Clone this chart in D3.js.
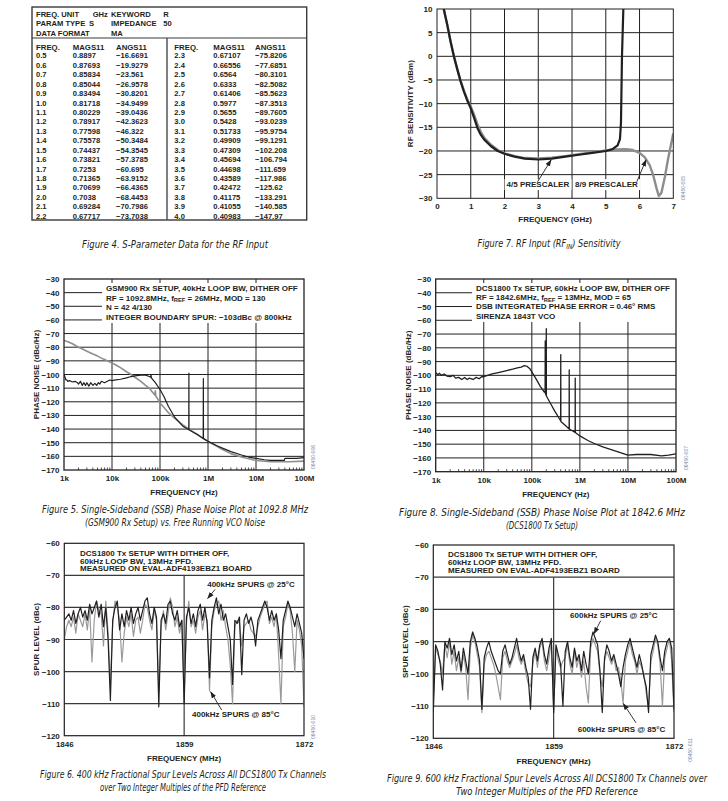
<!DOCTYPE html>
<html>
<head>
<meta charset="utf-8">
<script src="https://cdn.jsdelivr.net/npm/d3@7"></script>
<style>
  body { margin: 0; background: #fff; }
  svg text { font-family: "Liberation Sans", Arial, Helvetica, sans-serif; font-weight: bold; fill: #231f20; }
  svg text.cap { font-family: "Liberation Sans Narrow", "DejaVu Sans Condensed", "Liberation Sans", sans-serif; font-weight: normal; font-style: italic; }
  svg text.code { font-weight: normal; fill: #7486a6; }
</style>
</head>
<body>
<svg id="page" width="728" height="801"></svg>
<script>
// ---- Figure 4: S-parameter table
var tabFreqL = ['0.5', '0.6', '0.7', '0.8', '0.9', '1.0', '1.1', '1.2', '1.3', '1.4', '1.5', '1.6', '1.7', '1.8', '1.9', '2.0', '2.1', '2.2']
var tabMagL = ['0.8897', '0.87693', '0.85834', '0.85044', '0.83494', '0.81718', '0.80229', '0.78917', '0.77598', '0.75578', '0.74437', '0.73821', '0.7253', '0.71365', '0.70699', '0.7038', '0.69284', '0.67717']
var tabAngL = [-16.6691, -19.9279, -23.561, -26.9578, -30.8201, -34.9499, -39.0436, -42.3623, -46.322, -50.3484, -54.3545, -57.3785, -60.695, -63.9152, -66.4365, -68.4453, -70.7986, -73.7038]
var tabFreqR = ['2.3', '2.4', '2.5', '2.6', '2.7', '2.8', '2.9', '3.0', '3.1', '3.2', '3.3', '3.4', '3.5', '3.6', '3.7', '3.8', '3.9', '4.0']
var tabMagR = ['0.67107', '0.66556', '0.6564', '0.6333', '0.61406', '0.5977', '0.5655', '0.5428', '0.51733', '0.49909', '0.47309', '0.45694', '0.44698', '0.43589', '0.42472', '0.41175', '0.41055', '0.40983']
var tabAngR = [-75.8206, -77.6851, -80.3101, -82.5082, -85.5623, -87.3513, -89.7605, -93.0239, -95.9754, -99.1291, -102.208, -106.794, -111.659, -117.986, -125.62, -133.291, -140.585, -147.97]
var tabHeader = [['FREQ. UNIT', 'GHz', 'KEYWORD', 'R'], ['PARAM TYPE', 'S', 'IMPEDANCE', '50'], ['DATA FORMAT', '', 'MA', '']]
var tabColumns = ['FREQ.', 'MAGS11', 'ANGS11', 'FREQ.', 'MAGS11', 'ANGS11']

// ---- Figure 7: RF sensitivity (GHz, dBm)
var sensFreq45 = [0.2, 0.3, 0.4, 0.5, 0.6, 0.7, 0.8, 0.9, 1.0, 1.1, 1.2, 1.3, 1.4, 1.6, 1.8, 2.0, 2.3, 2.6, 3.0, 3.4, 3.8, 4.2, 4.6, 5.0, 5.2, 5.35, 5.42, 5.45, 5.48, 5.52]
var sens45 = [10, 6.8, 3.2, 0, -2.7, -5.3, -7.5, -9.4, -11, -13, -15.2, -16.6, -17.6, -19, -20, -20.6, -21.2, -21.6, -21.8, -21.6, -21.2, -20.8, -20.4, -20, -19.6, -18.8, -17.5, -14, 0, 10]
var sensFreq89 = [0.2, 0.3, 0.4, 0.5, 0.6, 0.7, 0.8, 0.9, 1.0, 1.1, 1.2, 1.3, 1.4, 1.6, 1.8, 2.0, 2.3, 2.6, 3.0, 3.4, 3.8, 4.2, 4.6, 5.0, 5.3, 5.6, 5.8, 6.0, 6.15, 6.3, 6.4, 6.5, 6.57, 6.65, 6.75, 6.85, 7.0]
var sens89 = [10, 6.8, 3.2, 0, -2.7, -5.2, -7.3, -9.1, -10.6, -12.4, -14.4, -16, -17.2, -18.7, -19.8, -20.5, -21.1, -21.5, -21.6, -21.4, -21.1, -20.7, -20.3, -19.9, -19.7, -19.6, -19.8, -20.4, -21.3, -23, -25, -27.8, -29.5, -28.8, -25.5, -21.5, -16.3]

// ---- Figure 5: phase noise, GSM900 Rx (Hz, dBc/Hz)
var pnTicks = [1e3, 1e4, 1e5, 1e6, 1e7, 1e8]
var pnTickLabels = ['1k', '10k', '100k', '1M', '10M', '100M']
var pn5Freq = [1000, 1050, 1100, 1150, 1200, 1300, 1400, 1500, 1700, 1900, 2000, 2200, 2400, 2600, 2800, 3000, 3300, 3600, 4000, 4400, 4800, 5200, 5600, 6000, 7000, 8000, 9000, 10000, 12000, 15000, 20000, 25000, 30000, 40000, 50000, 60000, 64000, 65000, 66000, 70000, 80000, 100000, 120000, 150000, 200000, 300000, 398000, 400000, 402000, 500000, 600000, 795000, 800000, 805000, 1e6, 1.5e6, 2e6, 3e6, 5e6, 7e6, 1e7, 1.5e7, 2e7, 3e7, 3.9e7, 4e7, 5e7, 7e7, 1e8]
var pn5Loop = [-100, -102, -104, -104, -105, -104.5, -105, -105.5, -105, -106, -107, -105, -108, -106, -108, -106, -108.5, -106, -108, -106.5, -108, -106, -107, -105, -106, -105, -104, -104.5, -104, -103.5, -102.5, -101.5, -101, -100.5, -100.5, -101.5, -102, -100, -102.5, -103.5, -106, -111, -116, -123.5, -131, -138, -140.5, -99, -140.5, -142.5, -144, -147, -103, -147, -149, -152, -154, -156.5, -159, -160.5, -161.5, -162.5, -163, -163, -163, -161.5, -161.5, -161.5, -161]
var pn5VcoFreq = [1000, 1200, 1500, 2000, 2500, 3000, 4000, 5000, 6000, 7000, 8000, 10000, 12000, 15000, 20000, 25000, 30000, 40000, 50000, 60000, 70000, 78000, 80000, 82000, 90000, 100000, 120000, 150000, 200000, 300000, 400000, 600000, 1e6, 1.5e6, 2e6, 3e6, 5e6, 1e7, 2e7, 5e7, 1e8]
var pn5Vco = [-75, -76, -77.5, -80, -81.5, -83, -85, -86.5, -88, -89, -90, -91.5, -93, -95, -98, -100, -102, -105, -108, -110, -113, -115, -112, -116, -118, -121, -124, -128, -132, -137, -140, -144, -149, -152.5, -155, -158, -160.5, -163, -164, -164, -163.5]
var pn5Notes = [['GSM900 Rx SETUP, 40kHz LOOP BW, DITHER OFF'], ['RF = 1092.8MHz, f', {sub: 'REF'}, ' = 26MHz, MOD = 130'], ['N = 42 4/130'], ['INTEGER BOUNDARY SPUR: \u2212103dBc @ 800kHz']]

// ---- Figure 8: phase noise, DCS1800 Tx
var pn8Freq = [1000, 1100, 1200, 1300, 1500, 1700, 2000, 2300, 2600, 3000, 3500, 4000, 4500, 5000, 6000, 7000, 8000, 9000, 10000, 12000, 15000, 20000, 30000, 40000, 50000, 60000, 70000, 80000, 90000, 100000, 120000, 150000, 180000, 189000, 190000, 191000, 199000, 200000, 201000, 250000, 300000, 398000, 400000, 402000, 500000, 598000, 600000, 602000, 798000, 800000, 802000, 1e6, 1.5e6, 2e6, 3e6, 5e6, 1e7, 1.5e7, 2e7, 3e7, 5e7, 7e7, 1e8]
var pn8 = [-98, -99.5, -98.5, -100, -99, -100.5, -101, -100, -102, -101.5, -103, -101.5, -103, -102, -103, -101.5, -102.5, -101, -101, -100, -99, -98, -96.5, -95.5, -94.5, -94, -93, -93.5, -95, -97.5, -102, -108, -112, -112.5, -75, -113, -114.5, -66, -115, -121, -126, -133, -85, -133.5, -136.5, -139, -96, -139, -141.5, -102, -141.5, -144, -147.5, -149.5, -152, -154.5, -158, -157.5, -157.5, -157.5, -158.5, -158, -157]
var pn8Notes = [['DCS1800 Tx SETUP, 60kHz LOOP BW, DITHER OFF'], ['RF = 1842.6MHz, f', {sub: 'REF'}, ' = 13MHz, MOD = 65'], ['DSB INTEGRATED PHASE ERROR = 0.46\u00b0 RMS'], ['SIRENZA 1843T VCO']]

// ---- Figures 6 and 9: spur levels over channels (MHz, dBc)
var chanFreq = d3.range(0, 105).map(i => 1846 + i * 0.25)
var spurTicks = [1846, 1859, 1872]
var spur400At25 = [-84, -83, -82, -84, -81, -85, -82, -80, -83, -81, -84, -79, -82, -80, -78, -83, -79, -86, -80, -90, -109, -84, -80, -78, -87, -82, -86, -81, -84, -80, -85, -82, -80, -84, -81, -78, -77, -82, -85, -80, -83, -111, -84, -82, -85, -79, -78, -82, -84, -81, -86, -84, -110, -83, -80, -85, -82, -86, -81, -79, -84, -80, -85, -102, -84, -80, -77, -82, -79, -84, -82, -86, -90, -104, -84, -85, -83, -101, -84, -82, -85, -83, -86, -92, -84, -82, -80, -78, -80, -84, -81, -84, -82, -87, -96, -84, -81, -78, -80, -83, -86, -82, -85, -88, -96]
var spur400At85 = [-90, -86, -84, -86, -83, -88, -82, -84, -86, -82, -87, -80, -97, -84, -78, -81, -82, -92, -78, -88, -104, -85, -78, -80, -84, -97, -88, -83, -86, -82, -89, -84, -83, -88, -84, -79, -80, -84, -87, -81, -84, -106, -86, -81, -87, -82, -77, -80, -86, -83, -88, -84, -107, -85, -78, -86, -84, -88, -83, -81, -87, -82, -84, -106, -86, -81, -79, -78, -84, -81, -86, -90, -98, -110, -86, -84, -85, -92, -86, -85, -84, -87, -88, -89, -86, -83, -81, -79, -78, -85, -83, -86, -82, -95, -110, -86, -83, -79, -81, -88, -100, -84, -87, -92, -111]
var spur600At25 = [-112, -91, -93, -97, -105, -90, -92, -89, -94, -91, -96, -93, -99, -92, -96, -100, -90, -87, -89, -92, -96, -111, -95, -92, -90, -93, -95, -97, -99, -100, -93, -91, -94, -97, -95, -92, -89, -93, -96, -94, -98, -101, -111, -95, -92, -96, -91, -89, -94, -97, -92, -89, -112, -91, -94, -97, -110, -93, -90, -95, -98, -92, -96, -94, -99, -93, -97, -100, -90, -87, -89, -91, -99, -112, -95, -91, -93, -96, -94, -97, -100, -104, -98, -94, -91, -89, -92, -95, -98, -94, -97, -101, -104, -112, -94, -91, -88, -90, -95, -99, -93, -90, -89, -92, -111]
var spur600At85 = [-108, -92, -94, -96, -100, -91, -95, -90, -97, -93, -99, -95, -100, -94, -98, -108, -92, -88, -90, -94, -98, -112, -97, -94, -93, -95, -97, -100, -104, -108, -95, -93, -96, -98, -96, -94, -91, -95, -97, -95, -100, -103, -104, -97, -93, -98, -92, -90, -96, -99, -95, -90, -111, -92, -96, -98, -96, -95, -91, -97, -100, -93, -98, -95, -101, -96, -104, -109, -92, -89, -91, -93, -100, -104, -96, -93, -95, -97, -95, -99, -98, -102, -109, -96, -93, -90, -94, -96, -100, -96, -98, -100, -106, -110, -96, -93, -89, -91, -97, -110, -95, -92, -89, -96, -112]

var captions = [
  {x: 175, y: 245, w: [186], lines: [['Figure 4. S-Parameter Data for the RF Input']]},
  {x: 549, y: 244, w: [143], lines: [['Figure 7. RF Input (RF', {sub: 'IN'}, ') Sensitivity']]},
  {x: 175, y: 510, w: [266, 180], lines: [['Figure 5. Single-Sideband (SSB) Phase Noise Plot at 1092.8 MHz'], ['(GSM900 Rx Setup) vs. Free Running VCO Noise']]},
  {x: 542, y: 513, w: [286, 72], lines: [['Figure 8. Single-Sideband (SSB) Phase Noise Plot at 1842.6 MHz'], ['(DCS1800 Tx Setup)']]},
  {x: 183, y: 775, w: [286, 166], lines: [['Figure 6. 400 kHz Fractional Spur Levels Across All DCS1800 Tx Channels'], ['over Two Integer Multiples of the PFD Reference']]},
  {x: 547, y: 779, w: [320, 182], lines: [['Figure 9. 600 kHz Fractional Spur Levels Across All DCS1800 Tx Channels over'], ['Two Integer Multiples of the PFD Reference']]}
]

var INK = '#231f20'
var GREY = '#8e8e8e'
var svg = d3.select('#page')
var fmt = v => String(v).replace('-', '\u2212')

// text with optional subscript pieces
function addText(g, x, y, parts, size, anchor) {
  var t = g.append('text').attr('x', x).attr('y', y).attr('dy', '0.35em')
    .attr('font-size', size || 8).attr('text-anchor', anchor || 'start')
  var back = 0
  parts.forEach(function(p) {
    if (typeof p === 'string') {
      t.append('tspan').attr('dy', back ? -back : null).text(p)
      back = 0
    } else {
      t.append('tspan').attr('font-size', (size || 8) * 0.72).attr('dy', 1.5).text(p.sub)
      back = 1.5
    }
  })
  return t
}

function arrow(g, x1, y1, x2, y2) {
  g.append('line').attr('x1', x1).attr('y1', y1).attr('x2', x2).attr('y2', y2)
    .attr('stroke', INK).attr('stroke-width', 0.9).attr('marker-end', 'url(#ah)')
}

svg.append('defs').append('marker').attr('id', 'ah')
  .attr('viewBox', '0 0 10 10').attr('refX', 9).attr('refY', 5)
  .attr('markerWidth', 7).attr('markerHeight', 7).attr('markerUnits', 'userSpaceOnUse')
  .attr('orient', 'auto')
  .append('path').attr('d', 'M0,1.5 L10,5 L0,8.5 Z').attr('fill', INK)

// ---------- Figure 4 table
var tab = svg.append('g')
tab.append('rect').attr('x', 32).attr('y', 7).attr('width', 274.7).attr('height', 213)
  .attr('fill', 'none').attr('stroke', '#3a3a3a').attr('stroke-width', 1.4)
tab.append('line').attr('x1', 32).attr('x2', 306.7).attr('y1', 38).attr('y2', 38)
  .attr('stroke', '#3a3a3a').attr('stroke-width', 1.2)
tab.append('line').attr('x1', 167).attr('x2', 167).attr('y1', 38).attr('y2', 220)
  .attr('stroke', '#555').attr('stroke-width', 1.5)

var hdrX = [[36, 92.7, 111, 163.3], [36, 89, 111, 163.3], [36, 0, 111, 0]]
var hdrY = d3.scalePoint().domain([0, 1, 2]).range([14.5, 33])
tabHeader.forEach(function(row, r) {
  row.forEach(function(s, c) {
    if (s) addText(tab, hdrX[r][c], hdrY(r), [s], 7.6)
  })
})
var colX = [36, 72.7, 116, 174.3, 213.3, 255]
tabColumns.forEach((s, c) => addText(tab, colX[c], 47.3, [s], 7.8))

var rowY = d3.scalePoint().domain(d3.range(tabFreqL.length)).range([55.8, 216])
var tabCols = [tabFreqL, tabMagL, tabAngL.map(fmt), tabFreqR, tabMagR, tabAngR.map(fmt)]
tabCols.forEach(function(col, c) {
  tab.append('g').selectAll('text').data(col).join('text')
    .attr('x', colX[c]).attr('y', (d, i) => rowY(i)).attr('dy', '0.35em')
    .attr('font-size', 7.6).text(d => d)
})

// ---------- generic panel
function panel(cfg) {
  var g = svg.append('g')
  var x = (cfg.log ? d3.scaleLog() : d3.scaleLinear()).domain(cfg.xDom).range([cfg.x0, cfg.x1])
  var y = d3.scaleLinear().domain(cfg.yDom).range([cfg.y1, cfg.y0])
  var id = 'clip' + cfg.id
  g.append('clipPath').attr('id', id).append('rect')
    .attr('x', cfg.x0).attr('y', cfg.y0).attr('width', cfg.x1 - cfg.x0).attr('height', cfg.y1 - cfg.y0)

  g.append('g').selectAll('line').data(cfg.hGrid).join('line')
    .attr('x1', cfg.x0).attr('x2', cfg.x1).attr('y1', d => y(d)).attr('y2', d => y(d))
    .attr('stroke', cfg.gridColor).attr('stroke-width', cfg.gridW)
  g.append('g').selectAll('line').data(cfg.vGrid).join('line')
    .attr('x1', d => x(d)).attr('x2', d => x(d))
    .attr('y1', cfg.vTop != null ? y(cfg.vTop) : cfg.y0).attr('y2', cfg.y1)
    .attr('stroke', cfg.gridColor).attr('stroke-width', cfg.gridW)

  if (cfg.minor) {
    g.append('g').selectAll('line').data(cfg.minor).join('line')
      .attr('x1', d => x(d)).attr('x2', d => x(d)).attr('y1', cfg.y1).attr('y2', cfg.y1 - 2.5)
      .attr('stroke', INK).attr('stroke-width', 0.8)
  }

  var ya = g.append('g').attr('transform', `translate(${cfg.x0},0)`)
    .call(d3.axisLeft(y).tickValues(cfg.yTicks).tickSize(0).tickPadding(4.5).tickFormat(d3.format('')))
  var xa = g.append('g').attr('transform', `translate(0,${cfg.y1})`)
    .call(d3.axisBottom(x).tickValues(cfg.xTicks).tickSize(0).tickPadding(5.5)
      .tickFormat(cfg.xLabels ? (d, i) => cfg.xLabels[i] : d3.format('')))
  ;[ya, xa].forEach(function(a) {
    a.select('.domain').remove()
    a.attr('font-family', null).attr('font-size', null)
    a.selectAll('text').attr('font-size', 8).attr('fill', INK)
  })

  addText(g, (cfg.x0 + cfg.x1) / 2, cfg.y1 + cfg.xLabelDy, [cfg.xLabel], 8, 'middle')
  addText(g, 0, 0, [cfg.yLabel], 8, 'middle')
    .attr('transform', `translate(${cfg.x0 - cfg.yLabelDx},${(cfg.y0 + cfg.y1) / 2}) rotate(-90)`)
  g.append('text').attr('class', 'code').attr('font-size', 5).attr('text-anchor', 'middle')
    .attr('transform', `translate(${cfg.code[1]},${cfg.code[2]}) rotate(-90)`).attr('dy', '0.35em').text(cfg.code[0])

  return {g: g, x: x, y: y, clip: `url(#${id})`,
    frame: () => g.append('rect').attr('x', cfg.x0).attr('y', cfg.y0)
      .attr('width', cfg.x1 - cfg.x0).attr('height', cfg.y1 - cfg.y0)
      .attr('fill', 'none').attr('stroke', INK).attr('stroke-width', cfg.frameW)}
}

function curve(p, xs, ys, color, w) {
  p.g.append('path').datum(d3.zip(xs, ys))
    .attr('d', d3.line().x(d => p.x(d[0])).y(d => p.y(d[1])))
    .attr('fill', 'none').attr('stroke', color).attr('stroke-width', w)
    .attr('stroke-linejoin', 'round').attr('clip-path', p.clip)
}

// ---------- Figure 7
var p7 = panel({id: 7, x0: 437, x1: 673.3, y0: 9, y1: 198.3, xDom: [0, 7], yDom: [-30, 10],
  hGrid: d3.range(-25, 10, 5), vGrid: d3.range(1, 7), gridColor: INK, gridW: 1,
  yTicks: d3.range(-30, 11, 5), xTicks: d3.range(0, 8), frameW: 1,
  xLabel: 'FREQUENCY (GHz)', xLabelDy: 21, yLabel: 'RF SENSITIVITY (dBm)', yLabelDx: 27,
  code: ['06450-005', 683, 188]})
curve(p7, sensFreq89, sens89, GREY, 2.4)
curve(p7, sensFreq45, sens45, INK, 2.2)
;[['4/5 PRESCALER', 2.06], ['8/9 PRESCALER', 4.09]].forEach(function(l) {
  var t = addText(p7.g, p7.x(l[1]), p7.y(-27.04), [l[0]], 8)
  var b = t.node().getBBox()
  p7.g.insert('rect', () => t.node()).attr('x', b.x - 2).attr('y', b.y - 1)
    .attr('width', b.width + 4).attr('height', b.height + 2).attr('fill', '#fff')
})
arrow(p7.g, p7.x(2.98), p7.y(-26.5), p7.x(3.38), p7.y(-21.9))
arrow(p7.g, p7.x(5.92), p7.y(-26.5), p7.x(6.19), p7.y(-21.9))
p7.frame()

// ---------- Figures 5 and 8
var pnMinor = []
pnTicks.slice(0, -1).forEach(d => d3.range(2, 10).forEach(m => pnMinor.push(d * m)))

function pnPanel(id, x0, x1, y0, y1, code, noteX, noteY) {
  var p = panel({id: id, log: true, x0: x0, x1: x1, y0: y0, y1: y1, xDom: [1e3, 1e8], yDom: [-170, -30],
    hGrid: d3.range(-160, -39, 10), vGrid: pnTicks.slice(1, -1), gridColor: INK, gridW: 1,
    yTicks: d3.range(-170, -29, 10), xTicks: pnTicks, xLabels: pnTickLabels, minor: pnMinor,
    frameW: 1.3, xLabel: 'FREQUENCY (Hz)', xLabelDy: 22.5, yLabel: 'PHASE NOISE (dBc/Hz)', yLabelDx: 28,
    code: code})
  p.g.append('rect').attr('x', noteX - 4).attr('y', y0 + 4).attr('width', x1 - noteX + 4)
    .attr('height', noteY[3] - y0 + 2).attr('fill', '#fff')
  return p
}

var p5 = pnPanel(5, 64, 304, 279, 470, ['06450-006', 313, 457], 106, [288, 298, 307, 317])
curve(p5, pn5VcoFreq, pn5Vco, GREY, 1.6)
curve(p5, pn5Freq, pn5Loop, INK, 1.2)
pn5Notes.forEach((l, i) => addText(p5.g, 106, [288, 298, 307.3, 317][i], l, 8))
p5.frame()

var p8 = pnPanel(8, 435.7, 676, 279, 471.7, ['06450-007', 686, 458], 476, [287.7, 297.3, 306.3, 316])
curve(p8, pn8Freq, pn8, INK, 1.3)
pn8Notes.forEach((l, i) => addText(p8.g, 476, [287.7, 297.3, 306.3, 316][i], l, 8))
p8.frame()

// ---------- Figures 6 and 9
function spurPanel(id, x0, x1, y0, y1, code, notes, lines25, lines85) {
  var p = panel({id: id, x0: x0, x1: x1, y0: y0, y1: y1, xDom: [1846, 1872], yDom: [-120, -60],
    hGrid: d3.range(-110, -69, 10), vGrid: [1859], vTop: -70, gridColor: '#3a3a3a', gridW: 1.2,
    yTicks: d3.range(-120, -59, 10), xTicks: spurTicks, frameW: 1.2,
    xLabel: 'FREQUENCY (MHz)', xLabelDy: 22.5, yLabel: 'SPUR LEVEL (dBc)', yLabelDx: 28,
    code: code})
  curve(p, chanFreq, lines85, '#9a9a9a', 1.2)
  curve(p, chanFreq, lines25, INK, 1.2)
  ;['DCS1800 Tx SETUP WITH DITHER OFF,', '60kHz LOOP BW, 13MHz PFD.', 'MEASURED ON EVAL-ADF4193EBZ1 BOARD']
    .forEach((s, i) => addText(p.g, notes[0], notes[1] + i * 7.7, [s], 8))
  return p
}

var p6 = spurPanel(6, 64.3, 304, 543.3, 735.7, ['06450-010', 313, 727], [80, 553], spur400At25, spur400At85)
addText(p6.g, p6.x(1861.5), p6.y(-72.6), ['400kHz SPURS @ 25\u00b0C'], 8)
arrow(p6.g, p6.x(1862.35), p6.y(-74.4), p6.x(1861.55), p6.y(-77.2))
addText(p6.g, p6.x(1859.85), p6.y(-113.2), ['400kHz SPURS @ 85\u00b0C'], 8)
arrow(p6.g, p6.x(1863.07), p6.y(-112), p6.x(1861.88), p6.y(-106.3))
p6.frame()

var p9 = spurPanel(9, 433.3, 674, 545, 738.3, ['06450-011', 690, 750], [448, 554.3], spur600At25, spur600At85)
addText(p9.g, p9.x(1860.77), p9.y(-81.9), ['600kHz SPURS @ 25\u00b0C'], 8)
arrow(p9.g, p9.x(1864.08), p9.y(-83.5), p9.x(1863.36), p9.y(-87.5))
addText(p9.g, p9.x(1861.6), p9.y(-117.1), ['600kHz SPURS @ 85\u00b0C'], 8)
arrow(p9.g, p9.x(1867.9), p9.y(-115.2), p9.x(1866.52), p9.y(-109.2))
p9.frame()

// ---------- captions
captions.forEach(function(c) {
  c.lines.forEach(function(l, i) {
    addText(svg, c.x, c.y + i * 13, l, 9.6, 'middle').attr('class', 'cap')
      .attr('textLength', c.w[i]).attr('lengthAdjust', 'spacingAndGlyphs')
  })
})
</script>
</body>
</html>
